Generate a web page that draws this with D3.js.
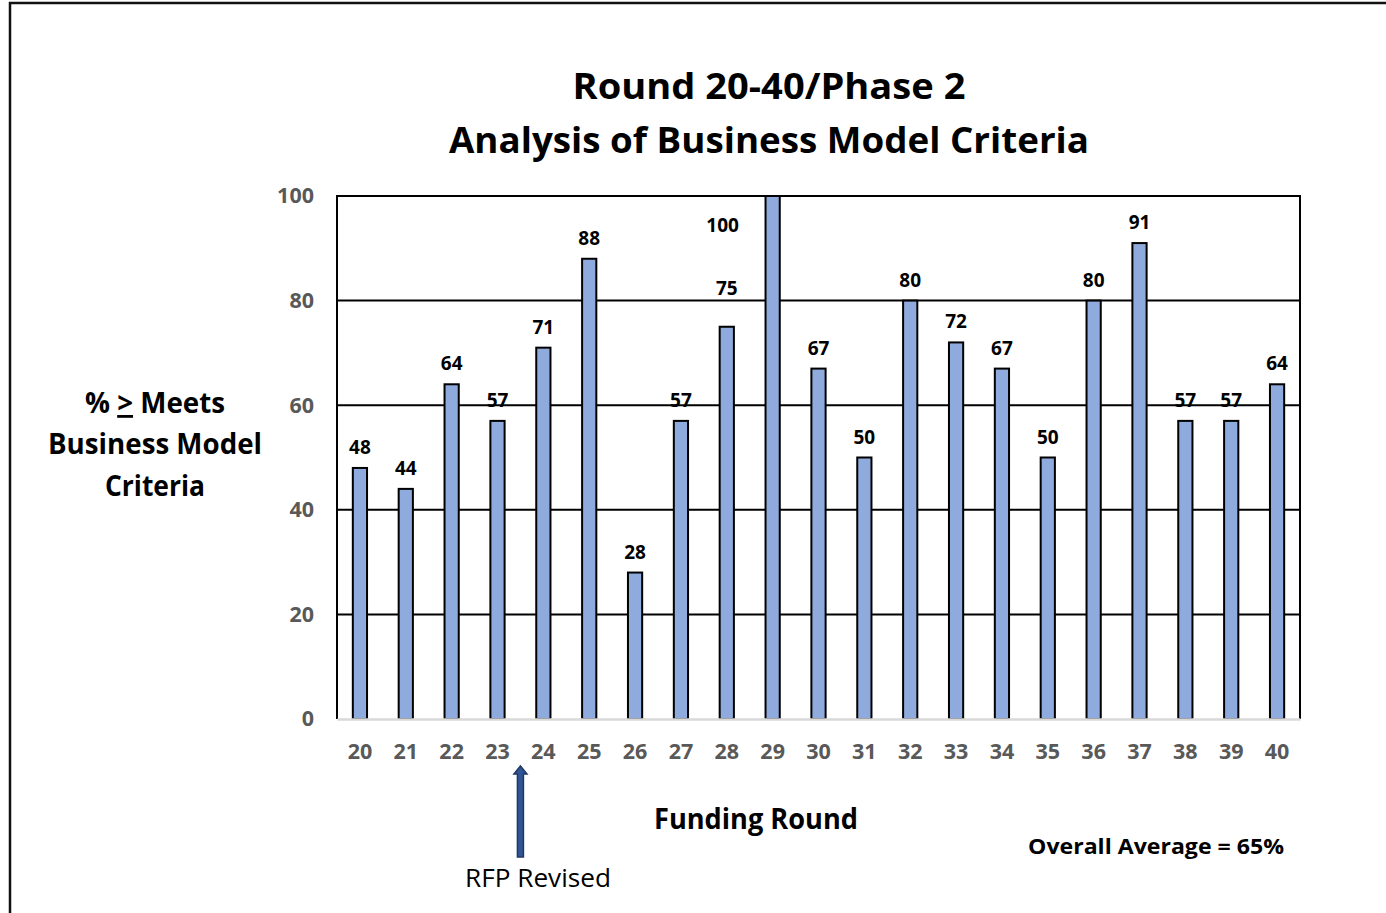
<!DOCTYPE html>
<html>
<head>
<meta charset="utf-8">
<script src="https://cdn.jsdelivr.net/npm/d3@7"></script>
<style>
  body { margin: 0; background: #fff; }
  text { font-family: "Open Sans", sans-serif; }
</style>
</head>
<body>
<svg id="chart" width="1386" height="913"></svg>
<script>
// funding rounds and % meeting business model criteria
const rounds = ['20','21','22','23','24','25','26','27','28','29','30','31','32','33','34','35','36','37','38','39','40']
const values = [48, 44, 64, 57, 71, 88, 28, 57, 75, 100, 67, 50, 80, 72, 67, 50, 80, 91, 57, 57, 64]
const yTicks = [0, 20, 40, 60, 80, 100]
const titleLines = ['Round 20-40/Phase 2', 'Analysis of Business Model Criteria']

const svg = d3.select('#chart')

// outer frame (runs off the page at right and bottom)
svg.append('rect')
  .attr('x', 10).attr('y', 3)
  .attr('width', 1400).attr('height', 940)
  .attr('fill', 'white')
  .attr('stroke', '#111').attr('stroke-width', 2.5)

const plot = { left: 337, right: 1300, top: 196, bottom: 719 }

const x = d3.scaleBand()
  .domain(rounds)
  .range([plot.left, plot.right])
  .paddingInner(0.69)
  .paddingOuter(0.345)

const y = d3.scaleLinear()
  .domain([0, 100])
  .range([plot.bottom, plot.top])

// title
const titleW = [393, 640]
svg.selectAll('text.title').data(titleLines).enter()
  .append('text')
  .attr('class', 'title')
  .attr('x', 769)
  .attr('y', (d, i) => 99 + i * 54)
  .attr('text-anchor', 'middle')
  .attr('font-size', 36)
  .attr('font-weight', 700)
  .attr('textLength', (d, i) => titleW[i])
  .attr('lengthAdjust', 'spacingAndGlyphs')
  .text(d => d)

// gridlines
svg.append('g')
  .selectAll('line').data(yTicks.filter(d => d > 0)).enter()
  .append('line')
  .attr('x1', plot.left).attr('x2', plot.right)
  .attr('y1', d => y(d)).attr('y2', d => y(d))
  .attr('stroke', '#000').attr('stroke-width', 2)

// left/right frame of plot area
svg.append('line')
  .attr('x1', plot.left).attr('x2', plot.left)
  .attr('y1', plot.top - 1).attr('y2', plot.bottom)
  .attr('stroke', '#000').attr('stroke-width', 2)
svg.append('line')
  .attr('x1', plot.right).attr('x2', plot.right)
  .attr('y1', plot.top - 1).attr('y2', plot.bottom)
  .attr('stroke', '#000').attr('stroke-width', 2)

// y axis labels
const yAxis = svg.append('g')
  .attr('transform', `translate(${plot.left},0)`)
  .call(d3.axisLeft(y).tickValues(yTicks).tickSize(0).tickPadding(23))
yAxis.select('.domain').remove()
yAxis.selectAll('text')
  .attr('font-family', '"Open Sans", sans-serif')
  .attr('font-size', 21.5)
  .attr('font-weight', 700)
  .attr('fill', '#595959')

// bars
const data = rounds.map((r, i) => ({ round: r, value: values[i] }))

svg.append('g')
  .selectAll('rect').data(data).enter()
  .append('rect')
  .attr('x', d => x(d.round))
  .attr('y', d => y(d.value))
  .attr('width', x.bandwidth())
  .attr('height', d => plot.bottom - y(d.value))
  .attr('fill', '#8faadc')
  .attr('stroke', '#000')
  .attr('stroke-width', 2)

// x axis (light gray baseline)
const xAxis = svg.append('g')
  .attr('transform', `translate(0,${plot.bottom})`)
  .call(d3.axisBottom(x).tickSize(0).tickPadding(25))
xAxis.select('.domain')
  .attr('stroke', '#d9d9d9').attr('stroke-width', 2.5)
xAxis.selectAll('text')
  .attr('font-family', '"Open Sans", sans-serif')
  .attr('font-size', 21.5)
  .attr('font-weight', 700)
  .attr('fill', '#595959')

// data labels; two were nudged by hand in the original
const nudge = { '28': [0, -18], '29': [-50, 50] }
svg.append('g')
  .selectAll('text').data(data).enter()
  .append('text')
  .attr('x', d => x(d.round) + x.bandwidth() / 2 + (nudge[d.round] ? nudge[d.round][0] : 0))
  .attr('y', d => y(d.value) - 14 + (nudge[d.round] ? nudge[d.round][1] : 0))
  .attr('text-anchor', 'middle')
  .attr('font-size', 19)
  .attr('font-weight', 700)
  .attr('fill', '#000')
  .text(d => d.value)

// y axis title
const yTitle = svg.append('text')
  .attr('text-anchor', 'middle')
  .attr('font-size', 28)
  .attr('font-weight', 700)
yTitle.append('tspan').attr('x', 155).attr('y', 413)
  .attr('textLength', 140).attr('lengthAdjust', 'spacingAndGlyphs')
  .text('% ')
  .append('tspan').attr('text-decoration', 'underline').text('>')
yTitle.select('tspan').append('tspan').text(' Meets')
yTitle.append('tspan').attr('x', 155).attr('y', 454)
  .attr('textLength', 214).attr('lengthAdjust', 'spacingAndGlyphs')
  .text('Business Model')
yTitle.append('tspan').attr('x', 155).attr('y', 496)
  .attr('textLength', 100).attr('lengthAdjust', 'spacingAndGlyphs')
  .text('Criteria')

// x axis title
svg.append('text')
  .attr('x', 756).attr('y', 829)
  .attr('text-anchor', 'middle')
  .attr('font-size', 28)
  .attr('font-weight', 700)
  .attr('textLength', 204).attr('lengthAdjust', 'spacingAndGlyphs')
  .text('Funding Round')

svg.append('text')
  .attr('x', 1156).attr('y', 854)
  .attr('text-anchor', 'middle')
  .attr('font-size', 22)
  .attr('font-weight', 700)
  .attr('textLength', 256).attr('lengthAdjust', 'spacingAndGlyphs')
  .text('Overall Average = 65%')

// RFP revised marker between rounds 23 and 24
const ax = (x('23') + x('24')) / 2 + x.bandwidth() / 2
const arrow = d3.path()
arrow.moveTo(ax - 3, 857)
arrow.lineTo(ax - 3, 774)
arrow.lineTo(ax - 6.5, 774)
arrow.lineTo(ax, 766)
arrow.lineTo(ax + 6.5, 774)
arrow.lineTo(ax + 3, 774)
arrow.lineTo(ax + 3, 857)
arrow.closePath()
svg.append('path')
  .attr('d', arrow.toString())
  .attr('fill', '#2f5597')
  .attr('stroke', '#1f3864')
  .attr('stroke-width', 1.5)

svg.append('text')
  .attr('x', 538).attr('y', 887)
  .attr('text-anchor', 'middle')
  .attr('font-size', 25)
  .attr('textLength', 146).attr('lengthAdjust', 'spacingAndGlyphs')
  .text('RFP Revised')
</script>
</body>
</html>
